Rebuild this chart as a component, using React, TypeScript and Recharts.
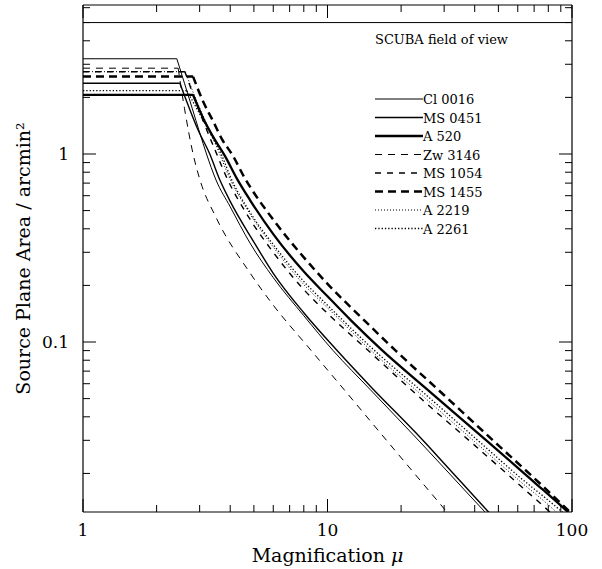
import React from "react";
import { LineChart, Line, XAxis, YAxis, ReferenceLine, Legend } from "recharts";

const FONT = "'DejaVu Serif', serif";

// axes
const xTicks = [1, 2, 3, 4, 5, 6, 7, 8, 9, 10, 20, 30, 40, 50, 60, 70, 80, 90, 100];
const yTicks = [
  0.02, 0.03, 0.04, 0.05, 0.06, 0.07, 0.08, 0.09, 0.1,
  0.2, 0.3, 0.4, 0.5, 0.6, 0.7, 0.8, 0.9, 1, 2, 3, 4, 5, 6,
];
const xDomain = [1, 100];
const yDomain = [0.01247, 6.2];

// SCUBA field of view (arcmin^2)
const scubaArea = 5.0;

// magnification / source plane area
// (first two points = flat part up to the knee)
const cl0016Mu = [1, 2.42, 2.6, 2.8, 3.0, 3.2, 3.5, 4.0, 4.82, 6, 8, 10.5, 15, 23.5, 30, 44, 50];
const cl0016Area = [3.21, 3.21, 2.38, 1.74, 1.3, 1.0, 0.727, 0.524, 0.336, 0.22, 0.138, 0.0906, 0.0556, 0.0301, 0.0214, 0.0125, 0.0105];

const ms0451Mu = [1, 2.49, 2.7, 2.95, 3.3, 3.63, 4.0, 5.0, 6, 8, 10.9, 15, 24.5, 30, 45.5, 52];
const ms0451Area = [2.38, 2.38, 1.8, 1.35, 1.0, 0.727, 0.56, 0.34, 0.232, 0.143, 0.0906, 0.058, 0.0301, 0.0226, 0.0125, 0.0104];

const a520Mu = [1, 2.82, 3.1, 3.45, 3.8, 4.26, 4.82, 6, 8, 10, 12.5, 16.7, 25, 44.5, 70, 96, 100];
const a520Area = [2.06, 2.06, 1.55, 1.2, 0.98, 0.74, 0.569, 0.375, 0.237, 0.175, 0.13, 0.0906, 0.0574, 0.0301, 0.018, 0.0125, 0.0119];

const zw3146Mu = [1, 2.45, 2.6, 2.82, 3.01, 3.5, 4.82, 6, 8.4, 12, 17.7, 24, 30.7, 35];
const zw3146Area = [2.86, 2.86, 1.75, 1.0, 0.727, 0.46, 0.233, 0.157, 0.093, 0.0536, 0.0293, 0.0183, 0.0125, 0.0101];

const ms1054Mu = [1, 2.61, 2.85, 3.1, 3.5, 3.85, 4.82, 6, 8, 10, 14.6, 25, 40, 60, 81, 90];
const ms1054Area = [2.74, 2.74, 2.0, 1.5, 1.02, 0.76, 0.45, 0.3, 0.19, 0.142, 0.0906, 0.048, 0.0282, 0.0177, 0.0125, 0.011];

const ms1455Mu = [1, 2.82, 3.1, 3.4, 3.7, 4.1, 4.6, 4.82, 6, 8, 10, 14, 18.9, 30, 50, 70, 98, 100];
const ms1455Area = [2.58, 2.58, 1.9, 1.5, 1.2, 0.98, 0.74, 0.67, 0.447, 0.282, 0.204, 0.132, 0.0906, 0.0521, 0.0282, 0.0189, 0.0125, 0.0122];

const a2219Mu = [1, 2.62, 2.9, 3.2, 3.6, 3.95, 4.82, 6, 8, 10, 15, 25, 40, 60, 86, 95];
const a2219Area = [2.74, 2.74, 1.95, 1.45, 1.02, 0.76, 0.48, 0.32, 0.202, 0.152, 0.0906, 0.0505, 0.0295, 0.0186, 0.0125, 0.011];

const a2261Mu = [1, 2.66, 2.95, 3.3, 3.7, 4.0, 4.82, 6, 8, 10, 15.5, 25, 40, 60, 91, 100];
const a2261Area = [2.17, 2.17, 1.7, 1.3, 0.98, 0.76, 0.49, 0.33, 0.21, 0.157, 0.0906, 0.053, 0.031, 0.0195, 0.0125, 0.0112];

const toPoints = (mu: number[], area: number[]) =>
  mu.map((m, i) => ({ mu: m, area: area[i] }));

const series = [
  { name: "Cl 0016", data: toPoints(cl0016Mu, cl0016Area), width: 1, dash: undefined },
  { name: "MS 0451", data: toPoints(ms0451Mu, ms0451Area), width: 1.4, dash: undefined },
  { name: "A 520", data: toPoints(a520Mu, a520Area), width: 2.3, dash: undefined },
  { name: "Zw 3146", data: toPoints(zw3146Mu, zw3146Area), width: 1, dash: "7 6" },
  { name: "MS 1054", data: toPoints(ms1054Mu, ms1054Area), width: 1.4, dash: "6 6" },
  { name: "MS 1455", data: toPoints(ms1455Mu, ms1455Area), width: 2.5, dash: "8 5" },
  { name: "A 2219", data: toPoints(a2219Mu, a2219Area), width: 1, dash: "1 2" },
  { name: "A 2261", data: toPoints(a2261Mu, a2261Area), width: 1.3, dash: "1.3 2" },
];

const isMajor = (v: number) =>
  Math.abs(Math.log10(v) - Math.round(Math.log10(v))) < 1e-6;

// ticks drawn inward on all four sides
const BottomTick = (props: any) => {
  const { x, y, payload } = props;
  const major = isMajor(payload.value);
  return (
    <g>
      <line x1={x} y1={y} x2={x} y2={y - (major ? 13 : 7)} stroke="#000" />
      {major && (
        <text x={x} y={y + 24} textAnchor="middle" fontFamily={FONT} fontSize={17} fill="#000">
          {payload.value}
        </text>
      )}
    </g>
  );
};

const TopTick = (props: any) => {
  const { x, y, payload } = props;
  const major = isMajor(payload.value);
  return <line x1={x} y1={y} x2={x} y2={y + (major ? 13 : 7)} stroke="#000" />;
};

const LeftTick = (props: any) => {
  const { x, y, payload } = props;
  const major = isMajor(payload.value);
  return (
    <g>
      <line x1={x} y1={y} x2={x + (major ? 13 : 7)} y2={y} stroke="#000" />
      {major && (
        <text x={x - 14} y={y + 6} textAnchor="end" fontFamily={FONT} fontSize={17} fill="#000">
          {payload.value}
        </text>
      )}
    </g>
  );
};

const RightTick = (props: any) => {
  const { x, y, payload } = props;
  const major = isMajor(payload.value);
  return <line x1={x} y1={y} x2={x - (major ? 13 : 7)} y2={y} stroke="#000" />;
};

const LegendBox = () => (
  <svg width={150} height={150} style={{ display: "block" }}>
    {series.map((s, i) => {
      const cy = 11 + i * 18.5;
      return (
        <g key={s.name}>
          <line x1={0} y1={cy} x2={48} y2={cy} stroke="#000" strokeWidth={s.width} strokeDasharray={s.dash} />
          <text x={48} y={cy + 5} fontFamily={FONT} fontSize={13} fill="#000">
            {s.name}
          </text>
        </g>
      );
    })}
  </svg>
);

export default function App() {
  return (
    <div style={{ position: "absolute", left: 0, top: 0 }}>
      <LineChart width={602} height={569} margin={{ top: 0, right: 0, bottom: 0, left: 0 }}>
        <XAxis
          xAxisId="b"
          dataKey="mu"
          type="number"
          scale="log"
          domain={xDomain}
          ticks={xTicks}
          interval={0}
          allowDataOverflow
          height={57}
          tickSize={0}
          tickMargin={0}
          tickLine={false}
          axisLine={{ stroke: "#000", strokeWidth: 1.2 }}
          tick={<BottomTick />}
          label={() => (
            <text x={327.5} y={562} textAnchor="middle" fontFamily={FONT} fontSize={19} fill="#000">
              Magnification <tspan fontStyle="italic">μ</tspan>
            </text>
          )}
        />
        <XAxis
          xAxisId="t"
          orientation="top"
          dataKey="mu"
          type="number"
          scale="log"
          domain={xDomain}
          ticks={xTicks}
          interval={0}
          allowDataOverflow
          height={5}
          tickSize={0}
          tickMargin={0}
          tickLine={false}
          axisLine={{ stroke: "#000", strokeWidth: 1.2 }}
          tick={<TopTick />}
        />
        <YAxis
          yAxisId="l"
          type="number"
          scale="log"
          domain={yDomain}
          ticks={yTicks}
          interval={0}
          allowDataOverflow
          width={83}
          tickSize={0}
          tickMargin={0}
          tickLine={false}
          axisLine={{ stroke: "#000", strokeWidth: 1.2 }}
          tick={<LeftTick />}
          label={() => (
            <text
              x={23}
              y={258.5}
              transform="rotate(-90 23 258.5)"
              textAnchor="middle"
              dominantBaseline="central"
              fontFamily={FONT}
              fontSize={19}
              fill="#000"
            >
              Source Plane Area / arcmin²
            </text>
          )}
        />
        <YAxis
          yAxisId="r"
          orientation="right"
          type="number"
          scale="log"
          domain={yDomain}
          ticks={yTicks}
          interval={0}
          allowDataOverflow
          width={30}
          tickSize={0}
          tickMargin={0}
          tickLine={false}
          axisLine={{ stroke: "#000", strokeWidth: 1.2 }}
          tick={<RightTick />}
        />
        <ReferenceLine
          xAxisId="b"
          yAxisId="l"
          y={scubaArea}
          stroke="#000"
          strokeWidth={1}
          label={(p: any) => (
            <text x={p.viewBox.x + 292} y={p.viewBox.y + 21} fontFamily={FONT} fontSize={13} fill="#000">
              SCUBA field of view
            </text>
          )}
        />
        {series.map((s) => (
          <Line
            key={s.name + "-flat"}
            data={s.data.slice(0, 2)}
            dataKey="area"
            xAxisId="b"
            yAxisId="l"
            type="linear"
            stroke="#000"
            strokeWidth={s.width}
            strokeDasharray={s.dash}
            dot={false}
            activeDot={false}
            legendType="none"
            isAnimationActive={false}
          />
        ))}
        {series.map((s) => (
          <Line
            key={s.name}
            name={s.name}
            data={s.data.slice(1)}
            dataKey="area"
            xAxisId="b"
            yAxisId="l"
            type="monotoneX"
            stroke="#000"
            strokeWidth={s.width}
            strokeDasharray={s.dash}
            dot={false}
            activeDot={false}
            isAnimationActive={false}
          />
        ))}
        <Legend
          layout="vertical"
          align="center"
          verticalAlign="middle"
          wrapperStyle={{ left: 375, top: 88, width: 150 }}
          content={() => <LegendBox />}
        />
      </LineChart>
    </div>
  );
}
